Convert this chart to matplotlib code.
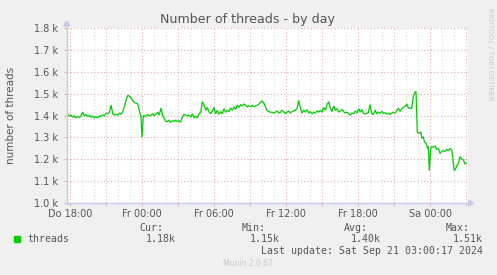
import numpy as np
import matplotlib
matplotlib.use("Agg")
import matplotlib.pyplot as plt
from matplotlib.lines import Line2D
from matplotlib.patches import Polygon, Rectangle
from matplotlib.ticker import FixedLocator, MultipleLocator

# hours after "Do 18:00"
HOURS = [
    -0.33, -0.19, -0.06, 0.08, 0.22, 0.36, 0.50, 0.64, 0.78, 0.92, 1.06, 1.19,
    1.33, 1.47, 1.61, 1.75, 1.89, 2.03, 2.17, 2.31, 2.44, 2.58, 2.72, 2.86,
    3.00, 3.14, 3.28, 3.42, 3.56, 3.69, 3.83, 3.97, 4.11, 4.25, 4.39, 4.53,
    4.67, 4.81, 4.94, 5.08, 5.22, 5.36, 5.50, 5.64, 5.78, 5.92, 6.00, 6.11,
    6.28, 6.47, 6.61, 6.75, 6.89, 7.03, 7.17, 7.31, 7.44, 7.58, 7.72, 7.86,
    8.00, 8.11, 8.25, 8.39, 8.53, 8.67, 8.81, 8.94, 9.08, 9.22, 9.36, 9.50,
    9.64, 9.78, 9.92, 10.06, 10.19, 10.33, 10.47, 10.61, 10.75, 10.89, 11.03,
    11.17, 11.31, 11.44, 11.58, 11.72, 11.86, 12.00, 12.14, 12.28, 12.42,
    12.56, 12.69, 12.83, 12.97, 13.11, 13.25, 13.39, 13.53, 13.67, 13.81,
    13.94, 14.08, 14.22, 14.36, 14.50, 14.64, 14.78, 14.92, 15.06, 15.19,
    15.33, 15.47, 15.61, 15.75, 15.89, 16.03, 16.17, 16.28, 16.42, 16.56,
    16.69, 16.83, 16.97, 17.11, 17.25, 17.39, 17.53, 17.67, 17.81, 17.94,
    18.08, 18.22, 18.36, 18.50, 18.64, 18.78, 18.92, 19.06, 19.19, 19.33,
    19.47, 19.61, 19.75, 19.89, 20.03, 20.17, 20.31, 20.44, 20.58, 20.72,
    20.86, 21.00, 21.14, 21.28, 21.42, 21.56, 21.69, 21.83, 21.97, 22.11,
    22.25, 22.39, 22.53, 22.67, 22.81, 22.94, 23.08, 23.22, 23.36, 23.50,
    23.64, 23.78, 23.92, 24.06, 24.19, 24.33, 24.44, 24.58, 24.72, 24.86,
    25.00, 25.14, 25.28, 25.42, 25.56, 25.69, 25.83, 25.97, 26.11, 26.25,
    26.39, 26.53, 26.67, 26.81, 26.94, 27.08, 27.22, 27.36, 27.50, 27.64,
    27.78, 27.92, 28.06, 28.19, 28.33, 28.47, 28.61, 28.69, 28.83, 28.94,
    29.11, 29.25, 29.31, 29.44, 29.53, 29.67, 29.81, 29.86, 29.94, 30.06,
    30.14, 30.28, 30.42, 30.56, 30.69, 30.83, 30.97, 31.11, 31.25, 31.39,
    31.53, 31.67, 31.81, 31.89, 32.00, 32.08, 32.22, 32.36, 32.50, 32.64,
    32.78, 32.92, 33.00,
]
THREADS = [
    1403, 1408, 1398, 1402, 1392, 1398, 1389, 1395, 1392, 1398, 1416, 1398,
    1405, 1395, 1400, 1392, 1398, 1389, 1395, 1389, 1398, 1395, 1402, 1398,
    1411, 1408, 1415, 1447, 1408, 1402, 1405, 1402, 1411, 1405, 1418, 1440,
    1469, 1492, 1489, 1481, 1469, 1460, 1456, 1453, 1421, 1395, 1300, 1400,
    1395, 1405, 1398, 1402, 1408, 1398, 1408, 1415, 1402, 1434, 1400, 1384,
    1373, 1373, 1379, 1369, 1376, 1373, 1379, 1373, 1376, 1369, 1392, 1405,
    1402, 1398, 1402, 1392, 1408, 1389, 1398, 1389, 1408, 1415, 1463,
    1448, 1424, 1437, 1416, 1408, 1421, 1437, 1408, 1424, 1405,
    1418, 1408, 1431, 1415, 1424, 1418, 1434, 1424, 1440, 1427,
    1447, 1437, 1450, 1444, 1453, 1447, 1440, 1444, 1440, 1447,
    1440, 1444, 1447, 1453, 1463, 1466, 1456, 1440, 1424, 1418,
    1415, 1415, 1411, 1415, 1421, 1411, 1415, 1424, 1418, 1408,
    1415, 1421, 1411, 1418, 1421, 1424, 1432, 1469, 1437, 1411,
    1424, 1415, 1427, 1411, 1418, 1408, 1415, 1411, 1421, 1415,
    1424, 1415, 1437, 1424, 1450, 1463, 1434, 1418, 1444, 1424,
    1431, 1415, 1421, 1427, 1418, 1411, 1415, 1408, 1402, 1411,
    1408, 1421, 1411, 1431, 1415, 1427, 1410, 1407, 1410, 1413,
    1450, 1410, 1404, 1425, 1407, 1416, 1410, 1419, 1410, 1413,
    1407, 1410, 1404, 1410, 1416, 1410, 1422, 1434, 1419, 1431,
    1437, 1441, 1453, 1434, 1434, 1431, 1486, 1501, 1511, 1322,
    1319, 1325, 1296, 1303, 1280, 1273, 1250, 1258, 1147, 1250,
    1258, 1255, 1261, 1245, 1250, 1227, 1235, 1239, 1236, 1245,
    1239, 1250, 1242, 1212, 1151, 1150, 1169, 1181, 1212, 1200,
    1197, 1178, 1181,
]

Y_TICKS = [1000, 1100, 1200, 1300, 1400, 1500, 1600, 1700, 1800]
Y_LABELS = ["1.0 k", "1.1 k", "1.2 k", "1.3 k", "1.4 k", "1.5 k", "1.6 k", "1.7 k", "1.8 k"]
X_LABEL_HOURS = [0, 6, 12, 18, 24, 30]
X_LABELS = ["Do 18:00", "Fr 00:00", "Fr 06:00", "Fr 12:00", "Fr 18:00", "Sa 00:00"]

STATS_HEAD = ["Cur:", "Min:", "Avg:", "Max:"]
STATS_VAL = ["1.18k", "1.15k", "1.40k", "1.51k"]

W, H = 497, 275
BG = "#f0f0f0"
GREEN = "#00cc00"
MAJOR = "#e0b0b0"
MINOR = "#dadada"
AXIS = "#c8c8f0"
TEXT = "#555555"


def fx(px):
    return px / W


def fy(py):
    return 1 - py / H


fig = plt.figure(figsize=(W / 100, H / 100), dpi=100, facecolor=BG)
left, right, top, bottom = 66.7, 467.7, 28, 203
ax = fig.add_axes([fx(left), fy(bottom), (right - left) / W, (bottom - top) / H])
ax.set_facecolor("white")
for s in ax.spines.values():
    s.set_visible(False)

ax.set_xlim(-0.275, 33.14)
ax.set_ylim(1000, 1800)

major_x = list(range(0, 34, 3))
ax.xaxis.set_major_locator(FixedLocator(major_x))
ax.xaxis.set_minor_locator(MultipleLocator(1))
ax.set_xticklabels([X_LABELS[X_LABEL_HOURS.index(h)] if h in X_LABEL_HOURS else ""
                    for h in major_x])
ax.set_yticks(Y_TICKS)
ax.set_yticklabels(Y_LABELS)

ax.grid(True, which="minor", axis="x", color=MINOR, linestyle=(0, (1, 2)), linewidth=0.8)
ax.grid(True, which="major", axis="x", color=MAJOR, linestyle=(0, (1, 2)), linewidth=0.8)
ax.grid(True, which="major", axis="y", color=MAJOR, linestyle=(0, (1, 2)), linewidth=0.8)
ax.set_axisbelow(True)

ax.tick_params(axis="x", which="major", length=2, color=MAJOR, labelsize=7,
               labelcolor=TEXT, pad=2)
ax.tick_params(axis="x", which="minor", length=1, color=MINOR)
ax.tick_params(axis="y", which="major", length=2, color=MAJOR, labelsize=7,
               labelcolor=TEXT, pad=4)

ax.plot(HOURS, THREADS, color=GREEN, linewidth=0.9, solid_joinstyle="miter")

# rrdtool style axis lines with arrows
fig.add_artist(Line2D([fx(left), fx(left)], [fy(bottom + 1), fy(top - 4)],
                      color=AXIS, linewidth=1, transform=fig.transFigure))
fig.add_artist(Line2D([fx(left - 1), fx(right + 3)], [fy(bottom), fy(bottom)],
                      color=AXIS, linewidth=1, transform=fig.transFigure))
fig.add_artist(Polygon([(fx(left - 3), fy(top - 2)), (fx(left + 3), fy(top - 2)),
                        (fx(left), fy(top - 7))], closed=True, color=AXIS,
                       transform=fig.transFigure))
fig.add_artist(Polygon([(fx(right + 1), fy(bottom - 3)), (fx(right + 1), fy(bottom + 3)),
                        (fx(right + 6), fy(bottom))], closed=True, color=AXIS,
                       transform=fig.transFigure))

fig.text(fx(248), fy(20), "Number of threads - by day", ha="center", va="center",
         fontsize=9.1, color="#555555")
fig.text(fx(11), fy(115), "number of threads", rotation=90, ha="center", va="center",
         fontsize=7.5, color=TEXT)
fig.text(fx(490), fy(54), "RRDTOOL / TOBI OETIKER", rotation=270, ha="center",
         va="center", fontsize=5.2, color="#c8c8c8")

mono = "DejaVu Sans Mono"
fs = 7.1
fig.add_artist(Rectangle((fx(14), fy(242)), 6 / W, 6 / H, color=GREEN,
                         transform=fig.transFigure))
fig.text(fx(27), fy(239.5), "threads", ha="left", va="center", fontsize=fs,
         family=mono, color=TEXT)
head_x = [163, 266, 368, 470]
val_x = [176, 280, 381, 483]
for hx, vx, h, v in zip(head_x, val_x, STATS_HEAD, STATS_VAL):
    fig.text(fx(hx), fy(228), h, ha="right", va="center", fontsize=fs,
             family=mono, color=TEXT)
    fig.text(fx(vx), fy(239.5), v, ha="right", va="center", fontsize=fs,
             family=mono, color=TEXT)
fig.text(fx(483), fy(251), "Last update: Sat Sep 21 03:00:17 2024", ha="right",
         va="center", fontsize=fs, family=mono, color=TEXT)
fig.text(fx(248), fy(264), "Munin 2.0.67", ha="center", va="center", fontsize=5.5,
         color="#c8c8c8")

fig.savefig("out.png", dpi=100, facecolor=BG)
